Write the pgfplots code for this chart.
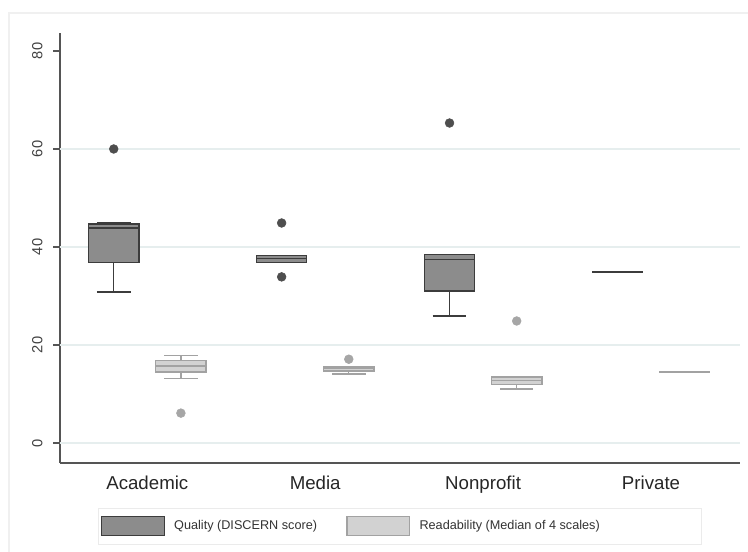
\documentclass[border=0pt]{standalone}
\usepackage{pgfplots}
\pgfplotsset{compat=1.18}
\usepackage{fontspec}
\setmainfont{Liberation Sans}
\definecolor{qfill}{HTML}{8C8C8C}
\definecolor{qdraw}{HTML}{3C3C3C}
\definecolor{qout}{HTML}{4E4E4E}
\definecolor{rfill}{HTML}{D2D2D2}
\definecolor{rdraw}{HTML}{A2A2A2}
\definecolor{rout}{HTML}{A6A6A6}
\definecolor{gridc}{HTML}{E6EEEE}
\definecolor{axc}{HTML}{555555}
\definecolor{framec}{HTML}{F0F0F0}
\pgfplotsset{
  qbox/.style={draw=qdraw, fill=qfill, line width=1pt, mark=none, forget plot},
  qline/.style={draw=qdraw, line width=1pt, mark=none, forget plot},
  qpts/.style={only marks, mark=*, mark size=3.3pt, mark options={draw=qout, fill=qout}, forget plot},
  rbox/.style={draw=rdraw, fill=rfill, line width=1pt, mark=none, forget plot},
  rline/.style={draw=rdraw, line width=1pt, mark=none, forget plot},
  rpts/.style={only marks, mark=*, mark size=3.3pt, mark options={draw=rout, fill=rout}, forget plot},
}
% #1 position, #2 lower whisker, #3 lower quartile, #4 median, #5 upper quartile, #6 upper whisker, #7 q or r
\newcommand{\bx}[7]{%
  \pgfmathsetmacro\xl{#1-0.15}\pgfmathsetmacro\xr{#1+0.15}%
  \pgfmathsetmacro\wl{#1-0.1}\pgfmathsetmacro\wr{#1+0.1}%
  \addplot[#7line] coordinates {(#1,#3) (#1,#2)};
  \addplot[#7line] coordinates {(\wl,#2) (\wr,#2)};
  \addplot[#7line] coordinates {(#1,#5) (#1,#6)};
  \addplot[#7line] coordinates {(\wl,#6) (\wr,#6)};
  \addplot[#7box] coordinates {(\xl,#3) (\xr,#3) (\xr,#5) (\xl,#5)} -- cycle;
  \addplot[#7line] coordinates {(\xl,#4) (\xr,#4)};
}
\begin{document}
\begin{tikzpicture}
\useasboundingbox (0,0) rectangle (561pt,414pt);
\draw[framec, line width=0.8pt] (6.75pt,-2pt) rectangle (563pt,404.25pt);
\begin{axis}[
  at={(45pt,66.75pt)}, anchor=south west,
  scale only axis, width=510pt, height=322.5pt,
  xmin=-0.52, xmax=3.53, ymin=-4.08, ymax=83.67,
  axis lines*=left,
  axis line style={axc, line width=1pt},
  xtick={0,1,2,3},
  xticklabels={Academic,Media,Nonprofit,Private},
  x tick style={draw=none},
  xticklabel style={font=\fontsize{14}{16}\selectfont, text=black!85, yshift=-1pt},
  ytick={0,20,40,60,80},
  yticklabel style={rotate=90, anchor=south, font=\fontsize{11}{13}\selectfont, text=black!75},
  yticklabel shift=4.5pt,
  /pgf/number format/assume math mode=true,
  y tick style={axc, line width=0.8pt},
  tick align=outside, major tick length=5pt,
  extra y ticks={0,20,40,60},
  extra y tick labels={},
  extra y tick style={ymajorgrids=true, major tick length=0pt},
  major grid style={gridc, line width=0.8pt},
  legend columns=2,
  legend style={at={(axis description cs:0.4993,-0.1465)}, anchor=center,
    draw=black!8, fill=white, font=\fontsize{9.5}{11}\selectfont, text=black!80,
    inner xsep=2pt, inner ysep=6pt},
  legend cell align=left,
]
% Academic
\bx{-0.2}{30.8}{36.9}{43.9}{44.7}{44.9}{q}
\addplot[qpts] coordinates {(-0.2,60.0)};
\bx{0.2}{13.1}{14.5}{15.7}{16.9}{17.8}{r}
\addplot[rpts] coordinates {(0.2,6.1)};
% Media
\bx{0.8}{36.9}{36.9}{37.6}{38.2}{38.2}{q}
\addplot[qpts] coordinates {(0.8,44.9) (0.8,33.9)};
\bx{1.2}{14.1}{14.7}{15.2}{15.5}{15.5}{r}
\addplot[rpts] coordinates {(1.2,17.1)};
% Nonprofit
\bx{1.8}{25.9}{31.0}{37.5}{38.4}{38.4}{q}
\addplot[qpts] coordinates {(1.8,65.3)};
\bx{2.2}{11.0}{12.0}{12.8}{13.5}{13.5}{r}
\addplot[rpts] coordinates {(2.2,24.9)};
% Private
\bx{2.8}{34.9}{34.9}{34.9}{34.9}{34.9}{q}
\bx{3.2}{14.5}{14.5}{14.5}{14.5}{14.5}{r}
% legend
\addlegendimage{legend image code/.code={\draw[draw=qdraw, fill=qfill, line width=1pt] (0pt,-7pt) rectangle (47pt,7pt);}}
\addlegendentry{\hspace{5pt}\makebox[127pt][l]{Quality (DISCERN score)}}
\addlegendimage{legend image code/.code={\draw[draw=rdraw, fill=rfill, line width=1pt] (0pt,-7pt) rectangle (47pt,7pt);}}
\addlegendentry{\hspace{5pt}\makebox[207pt][l]{Readability (Median of 4 scales)}}
\end{axis}
\end{tikzpicture}
\end{document}
